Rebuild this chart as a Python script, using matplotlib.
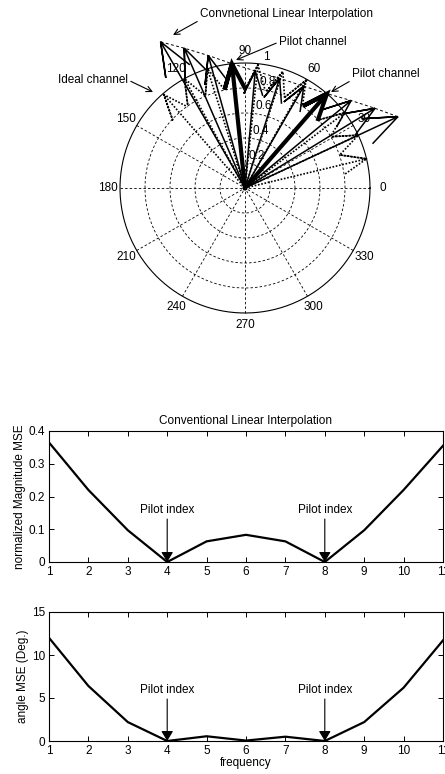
import numpy as np
import matplotlib
matplotlib.use("Agg")
import matplotlib.pyplot as plt

plt.rcParams["font.family"] = ["Liberation Sans Narrow", "Liberation Sans", "DejaVu Sans"]
plt.rcParams["font.size"] = 8.5

# subcarrier index and pilot positions
freq = [1, 2, 3, 4, 5, 6, 7, 8, 9, 10, 11]
pilot_idx = [4, 8]

# ideal channel (magnitude, phase in degrees)
ideal_mag = [0.99, 1.0, 1.0, 1.0, 0.99, 0.98, 0.99, 1.0, 1.0, 1.0, 1.0]
ideal_deg = [131, 119, 107.5, 96, 84, 72, 60.5, 49, 37, 25, 13.5]

# conventional linear interpolation estimate
interp_mag = [1.35, 1.22, 1.10, 1.0, 0.94, 0.92, 0.94, 1.0, 1.10, 1.22, 1.35]
interp_deg = [120, 113.5, 105.5, 96, 85, 72.5, 60, 49, 39.5, 31.5, 25]

# pilot channel
pilot_mag = [1.0, 1.0]
pilot_deg = [96, 49]

# error curves
mag_mse = [0.365, 0.22, 0.097, 0.0, 0.063, 0.083, 0.063, 0.0, 0.097, 0.22, 0.355]
ang_mse = [12.0, 6.4, 2.2, 0.0, 0.55, 0.05, 0.5, 0.0, 2.2, 6.2, 11.7]

W, H = 445, 774
fig = plt.figure(figsize=(W / 100, H / 100), dpi=100)


def compass(ax, mag, deg, **kw):
    # MATLAB style compass arrows
    head = np.array([0, 1, 0.8 + 0.08j, 1, 0.8 - 0.08j])
    for r, d in zip(mag, deg):
        pts = head * r * np.exp(1j * np.deg2rad(d))
        ax.plot(pts.real, pts.imag, color="black", solid_joinstyle="miter", **kw)


# ---- compass plot ----
cx, cy, rad, top_h = 245, 188, 125, 380
axp = fig.add_axes([0, 1 - top_h / H, 1, top_h / H])
axp.set_xlim(-cx / rad, (W - cx) / rad)
axp.set_ylim((cy - top_h) / rad, cy / rad)
axp.axis("off")

t = np.linspace(0, 2 * np.pi, 400)
grid_ls = (0, (3, 2.5))
for r in [0.2, 0.4, 0.6, 0.8]:
    axp.plot(r * np.cos(t), r * np.sin(t), color="black", lw=0.6, ls=grid_ls)
axp.plot(np.cos(t), np.sin(t), color="black", lw=0.8)
for a in range(0, 180, 30):
    ar = np.deg2rad(a)
    axp.plot([-np.cos(ar), np.cos(ar)], [-np.sin(ar), np.sin(ar)],
             color="black", lw=0.6, ls=grid_ls)
for a in range(0, 360, 30):
    ar = np.deg2rad(a)
    axp.text(1.1 * np.cos(ar), 1.1 * np.sin(ar), str(a), ha="center", va="center")
for r, lab in zip([0.2, 0.4, 0.6, 0.8, 1.0], ["0.2", "0.4", "0.6", "0.8", "1"]):
    ar = np.deg2rad(82)
    axp.text((r + 0.01) * np.cos(ar), (r + 0.01) * np.sin(ar), lab,
             ha="left", va="bottom")

compass(axp, ideal_mag, ideal_deg, lw=1.2, ls=(0, (1, 1)))
compass(axp, interp_mag, interp_deg, lw=1.1)
compass(axp, pilot_mag, pilot_deg, lw=3.0)
z = np.array(interp_mag) * np.exp(1j * np.deg2rad(interp_deg))
axp.plot(z.real, z.imag, color="black", lw=0.7, ls=(0, (3, 2.5)))


def px(x, y):
    return ((x - cx) / rad, (cy - y) / rad)


arr = dict(arrowstyle="->", color="black", lw=0.8, mutation_scale=10,
           shrinkA=0, shrinkB=0)
axp.annotate("Convnetional Linear Interpolation", xy=px(173, 35), xytext=px(200, 14),
             ha="left", va="center", arrowprops=dict(arr, relpos=(0, 0)))
axp.annotate("Pilot channel", xy=px(236, 60), xytext=px(279, 42),
             ha="left", va="center", arrowprops=dict(arr, relpos=(0, 0.5)))
axp.annotate("Pilot channel", xy=px(331, 92), xytext=px(352, 74),
             ha="left", va="center", arrowprops=dict(arr, relpos=(0, 0)))
axp.annotate("Ideal channel", xy=px(153, 92), xytext=px(128, 80),
             ha="right", va="center", arrowprops=dict(arr, relpos=(1, 0.5)))


# ---- error curves ----
def style(ax):
    ax.set_xlim(1, 11)
    ax.set_xticks(freq)
    ax.tick_params(direction="in", top=True, right=True, length=3.5, width=0.7, pad=3)
    for s in ax.spines.values():
        s.set_linewidth(0.8)


ax1 = fig.add_axes([49 / W, 1 - 562 / H, 394 / W, 131 / H])
ax1.plot(freq, mag_mse, color="black", lw=1.6)
style(ax1)
ax1.set_ylim(0, 0.4)
ax1.set_yticks([0, 0.1, 0.2, 0.3, 0.4])
ax1.set_yticklabels(["0", "0.1", "0.2", "0.3", "0.4"])
ax1.set_ylabel("normalized Magnitude MSE", labelpad=2)
ax1.set_title("Conventional Linear Interpolation", fontsize=8.5, pad=5)

ax2 = fig.add_axes([49 / W, 1 - 741 / H, 394 / W, 129 / H])
ax2.plot(freq, ang_mse, color="black", lw=1.6)
style(ax2)
ax2.set_ylim(0, 15)
ax2.set_yticks([0, 5, 10, 15])
ax2.set_ylabel("angle MSE (Deg.)", labelpad=2)
ax2.set_xlabel("frequency", labelpad=0)

parr = dict(arrowstyle="-|>,head_length=0.5,head_width=0.3", color="black",
            lw=0.8, mutation_scale=12, shrinkA=0, shrinkB=0)
for p in pilot_idx:
    ax1.annotate("Pilot index", xy=(p, 0), xytext=(p, 0.158), ha="center",
                 va="center", arrowprops=parr)
    ax2.annotate("Pilot index", xy=(p, 0), xytext=(p, 5.9), ha="center",
                 va="center", arrowprops=parr)

fig.savefig("out.png", dpi=100)
